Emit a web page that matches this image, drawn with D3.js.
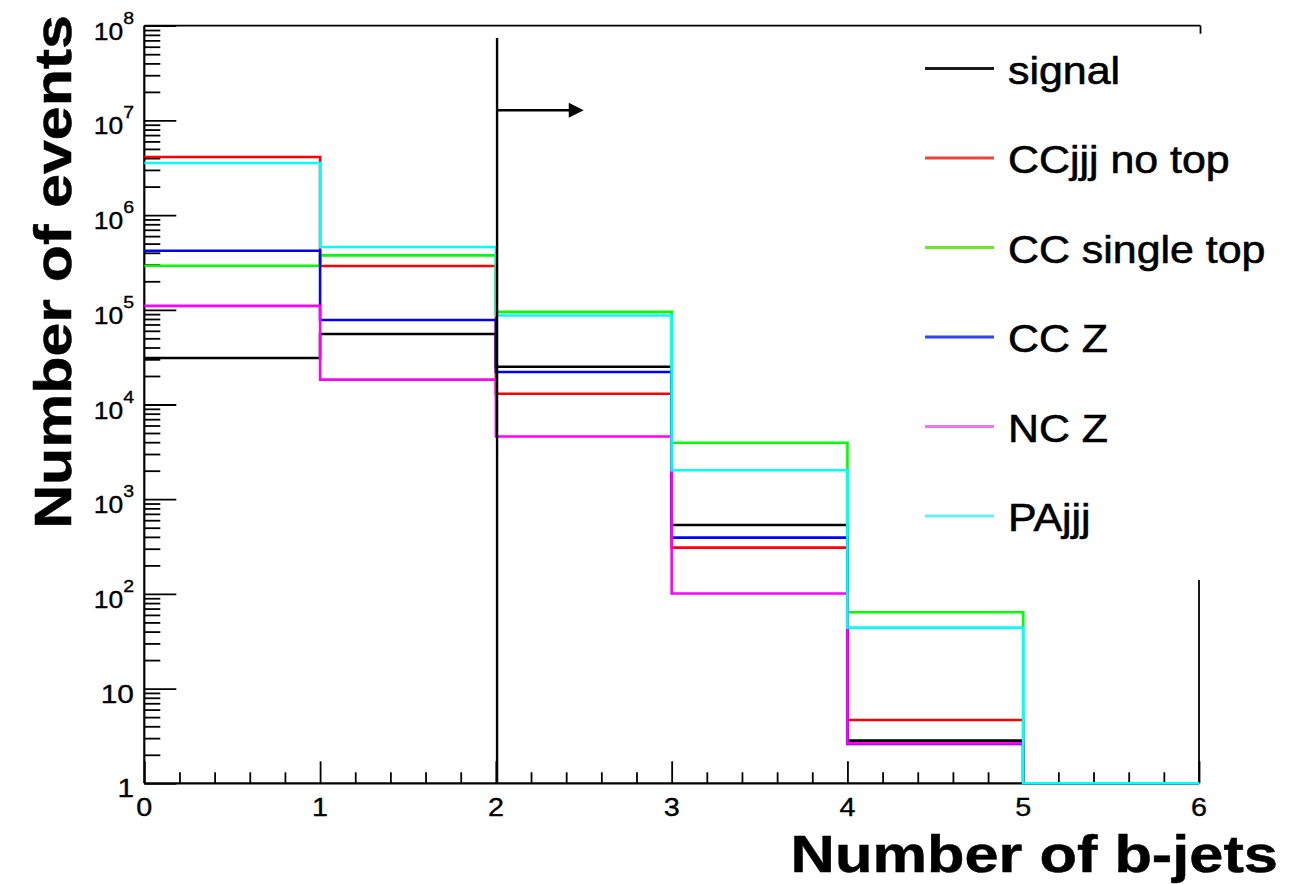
<!DOCTYPE html>
<html>
<head>
<meta charset="utf-8">
<script src="https://cdn.jsdelivr.net/npm/d3@7"></script>
<style>
  html, body { margin: 0; padding: 0; background: #ffffff; }
  svg { display: block; }
  text { font-family: "Liberation Sans", Arial, Helvetica, sans-serif; fill: #000; }
</style>
</head>
<body>
<svg id="chart" width="1289" height="884"></svg>
<script>
// ---------------- data ----------------
const binEdges = [0, 1, 2, 3, 4, 5, 6];
const seriesNames = ["signal", "CCjjj no top", "CC single top", "CC Z", "NC Z", "PAjjj"];
const seriesColors = ["#000000", "#ff0000", "#00ff00", "#0000ff", "#ff00ff", "#00ffff"];
const legendColors = ["#1a1a1a", "#ee4433", "#66ee1a", "#3344ee", "#ee77ee", "#66f0f0"];
const signal       = [3.1e4, 5.55e4, 2.5e4, 535, 2.82, 0];
const ccjjjNoTop   = [4.1e6, 2.9e5, 1.3e4, 308, 4.66, 0];
const ccSingleTop  = [2.92e5, 3.76e5, 9.5e4, 3950, 64, 0];
const ccZ          = [4.2e5, 7.8e4, 2.2e4, 393, 2.6, 0];
const ncZ          = [1.1e5, 1.83e4, 4600, 101, 2.64, 0];
const paJjj        = [3.55e6, 4.6e5, 8.7e4, 2020, 44, 0];
const seriesValues = [signal, ccjjjNoTop, ccSingleTop, ccZ, ncZ, paJjj];
const yMajorTicks = [1, 10, 1e2, 1e3, 1e4, 1e5, 1e6, 1e7, 1e8];
const yTickLabels = [["1", ""], ["10", ""], ["10", "2"], ["10", "3"], ["10", "4"], ["10", "5"], ["10", "6"], ["10", "7"], ["10", "8"]];
const xMajorTicks = [0, 1, 2, 3, 4, 5, 6];
const xTickLabels = ["0", "1", "2", "3", "4", "5", "6"];
const cutValue = 2;          // selection cut: n b-jets >= 2
const cutLineTop = 7.4e7;    // top of the cut marker line
const arrowLevel = 1.28e7;   // height of the arrow
const arrowEnd = 2.5;        // arrow tip position
const xTitle = "Number of b-jets";
const yTitle = "Number of events";

(function () {
// ---------------- layout ----------------
const svg = d3.select("#chart");
const pL = 144.3, pR = 1199, pT = 25.7, pB = 783.3;
const SX = 1.15; // horizontal stretch of the original typeface

const x = d3.scaleLinear().domain([0, 6]).range([pL, pR]);
const y = d3.scaleLog().domain([1, 1e8]).range([pB, pT]);
const yc = v => y(Math.max(v, 1));

function stext(g, tx, ty, str, size, opts = {}) {
  return g.append("text")
    .attr("transform", `translate(${tx},${ty})${opts.rotate ? ` rotate(${opts.rotate})` : ""} scale(${opts.sx || SX},1)`)
    .attr("text-anchor", opts.anchor || "start")
    .style("font-size", size + "px")
    .style("font-weight", opts.weight || "normal")
    .style("stroke", "#000")
    .style("stroke-width", opts.sw || 0.35)
    .text(str);
}

// ---------------- axes ----------------
const axes = svg.append("g");
const yMinor = [];
for (let k = 0; k < 8; k++) for (let m = 2; m <= 9; m++) yMinor.push(m * Math.pow(10, k));
axes.append("g").attr("transform", `translate(${pL},0)`)
  .call(d3.axisRight(y).tickValues(yMinor).tickSize(16).tickFormat(""));
axes.append("g").attr("transform", `translate(${pL},0)`)
  .call(d3.axisRight(y).tickValues(yMajorTicks).tickSize(32).tickFormat(""));
const xMinor = [];
for (let i = 0; i < 6; i++) for (let j = 1; j <= 4; j++) xMinor.push(i + j * 0.2);
axes.append("g").attr("transform", `translate(0,${pB})`)
  .call(d3.axisTop(x).tickValues(xMinor).tickSize(11).tickFormat(""));
axes.append("g").attr("transform", `translate(0,${pB})`)
  .call(d3.axisTop(x).tickValues(xMajorTicks).tickSize(22).tickFormat(""));
axes.selectAll(".domain").remove();
axes.selectAll(".tick line").attr("stroke", "#000").attr("stroke-width", 1.8);

// frame
const frame = svg.append("g").attr("stroke", "#000").attr("fill", "none");
frame.append("line").attr("x1", pL).attr("x2", pL).attr("y1", pT).attr("y2", pB).attr("stroke-width", 2.2);
frame.append("line").attr("x1", pL).attr("x2", pR).attr("y1", pB).attr("y2", pB).attr("stroke-width", 2.2);
frame.append("line").attr("x1", pL).attr("x2", pR + 1.5).attr("y1", pT).attr("y2", pT).attr("stroke-width", 1.8);
frame.append("line").attr("x1", pR + 1.5).attr("x2", pR + 1.5).attr("y1", pT).attr("y2", pT + 8).attr("stroke-width", 1.8);
frame.append("line").attr("x1", pR).attr("x2", pR).attr("y1", 580).attr("y2", pB).attr("stroke-width", 1.8);

// y tick labels
const ylab = svg.append("g");
yMajorTicks.forEach((v, i) => {
  const [base, exp] = yTickLabels[i];
  const t = ylab.append("text")
    .attr("transform", `translate(134,${y(v) + 14}) scale(${SX},1)`)
    .attr("text-anchor", "end")
    .style("stroke", "#000").style("stroke-width", 0.35);
  if (exp) {
    t.append("tspan").style("font-size", "23px").text(base);
    t.append("tspan").style("font-size", "17px").attr("dy", -16).text(exp);
  } else {
    t.append("tspan").style("font-size", "26px").text(base);
  }
});
// x tick labels
const xlab = svg.append("g");
xMajorTicks.forEach((v, i) => {
  stext(xlab, x(v), 816, xTickLabels[i], 25, { anchor: "middle" });
});

// ---------------- histograms ----------------
const hist = svg.append("g").attr("fill", "none");
seriesValues.forEach((vals, s) => {
  const pts = [];
  vals.forEach((v, i) => {
    pts.push([x(binEdges[i]), yc(v)]);
    pts.push([x(binEdges[i + 1]), yc(v)]);
  });
  hist.append("path")
    .attr("d", d3.line()(pts))
    .attr("stroke", seriesColors[s])
    .attr("stroke-width", 2.6)
    .attr("stroke-linejoin", "miter");
});

// ---------------- cut marker ----------------
const cut = svg.append("g");
const cx = x(cutValue) + 1.2;
cut.append("line")
  .attr("x1", cx).attr("x2", cx)
  .attr("y1", y(cutLineTop)).attr("y2", pB)
  .attr("stroke", "#000").attr("stroke-width", 2.4);
const ay = y(arrowLevel);
const ax1 = x(arrowEnd);
cut.append("line")
  .attr("x1", cx).attr("x2", ax1 - 12)
  .attr("y1", ay).attr("y2", ay)
  .attr("stroke", "#000").attr("stroke-width", 2.4);
cut.append("path")
  .attr("d", `M${ax1},${ay} L${ax1 - 15},${ay - 7.5} L${ax1 - 15},${ay + 7.5} Z`)
  .attr("fill", "#000");

// ---------------- legend ----------------
const legend = svg.append("g");
seriesNames.forEach((name, i) => {
  const ly = 68.5 + i * 89.5;
  legend.append("line")
    .attr("x1", 925).attr("x2", 994)
    .attr("y1", ly).attr("y2", ly)
    .attr("stroke", legendColors[i]).attr("stroke-width", 3.2);
  stext(legend, 1008, ly + 15, name, 39, { sx: 1.1, sw: 0.6 });
});

// ---------------- titles ----------------
stext(svg, 1278, 872, xTitle, 52, { anchor: "end", weight: "bold", sx: 1.18, sw: 0.5 });
stext(svg, 71, 272, yTitle, 52, { anchor: "middle", weight: "bold", rotate: -90, sx: 1.17, sw: 0.5 });
})();
</script>
</body>
</html>
